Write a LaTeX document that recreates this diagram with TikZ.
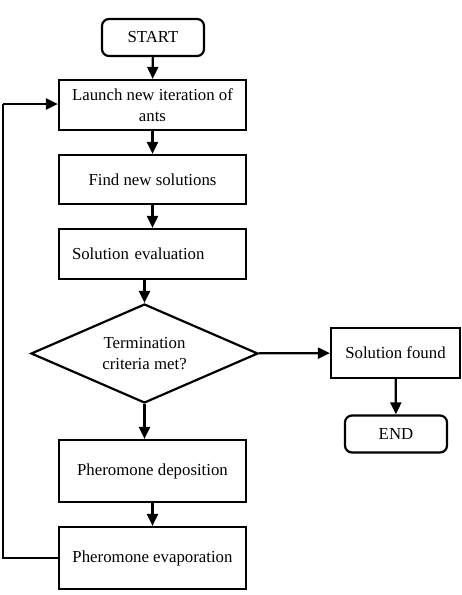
\documentclass[tikz,border=0pt]{standalone}
\usepackage{fontspec}
\setmainfont{Liberation Serif}
\usepackage{tikz}
\usetikzlibrary{arrows.meta}
\usetikzlibrary{shapes.geometric}
\usetikzlibrary{positioning}
\tikzset{
	% >=stealth, %% plainer heads
    block/.style={draw=black, rectangle, minimum width=187pt, inner sep=0pt,
        font=\fontsize{16.8}{21}\selectfont, align=center},
    terminal/.style={draw=black, rectangle, rounded corners=7pt, inner sep=0pt,
        minimum width=102pt, minimum height=37pt, font=\fontsize{16.8}{21}\selectfont},
    decision/.style={draw=black, diamond, aspect=2.3, inner sep=0pt,
        minimum width=227pt, minimum height=99pt,
        font=\fontsize{16.8}{21}\selectfont, align=center},
    flow/.style={draw=black, -{Triangle[length=12pt,width=11pt]}},
    loopline/.style={draw=black},
}

\begin{document}
\begin{tikzpicture}[x=1pt, y=-1pt, line width=2.2pt]
	\useasboundingbox (0,0) rectangle (461,595);
	\node[terminal] (start) at (153,37.5) {START};
	\node[block, minimum height=50pt] (launch) at (152.5,105) {Launch new iteration of\\ants};
	\node[block, minimum height=49pt] (find) at (152.5,179.5) {Find new solutions};
	\node[block, minimum height=50pt, text width=161pt, align=left] (eval) at (152.5,254) {Solution evaluation};
	\node[decision] (check) at (144.5,353.5) {Termination\\criteria met?};
	\node[block, minimum width=129pt, minimum height=50pt] (found) at (395.5,353) {Solution found};
	\node[terminal] (end) at (396,434) {END};
	\node[block, minimum height=62pt] (deposit) at (152.5,471) {Pheromone deposition};
	\node[block, minimum height=62pt] (evap) at (152.5,558) {Pheromone evaporation};
	\coordinate (back) at (3,0);
	%
	\draw[flow] (start) -- (launch);
	\draw[flow] (launch) -- (find);
	\draw[flow] (find) -- (eval);
	\draw[flow] (eval.south -| check.north) -- (check);
	\draw[flow] (check) -- (found);
	\draw[flow] (found) -- (end);
	\draw[flow] (check) -- (deposit.north -| check.south);
	\draw[flow] (deposit) -- (evap);
	%
	\draw[loopline] (evap.west) -- (evap.west -| back) -- ([yshift=1pt]launch.west -| back);
	\draw[flow] ([yshift=1pt]launch.west -| back) -- ([yshift=1pt]launch.west);
 \end{tikzpicture}
\end{document}
